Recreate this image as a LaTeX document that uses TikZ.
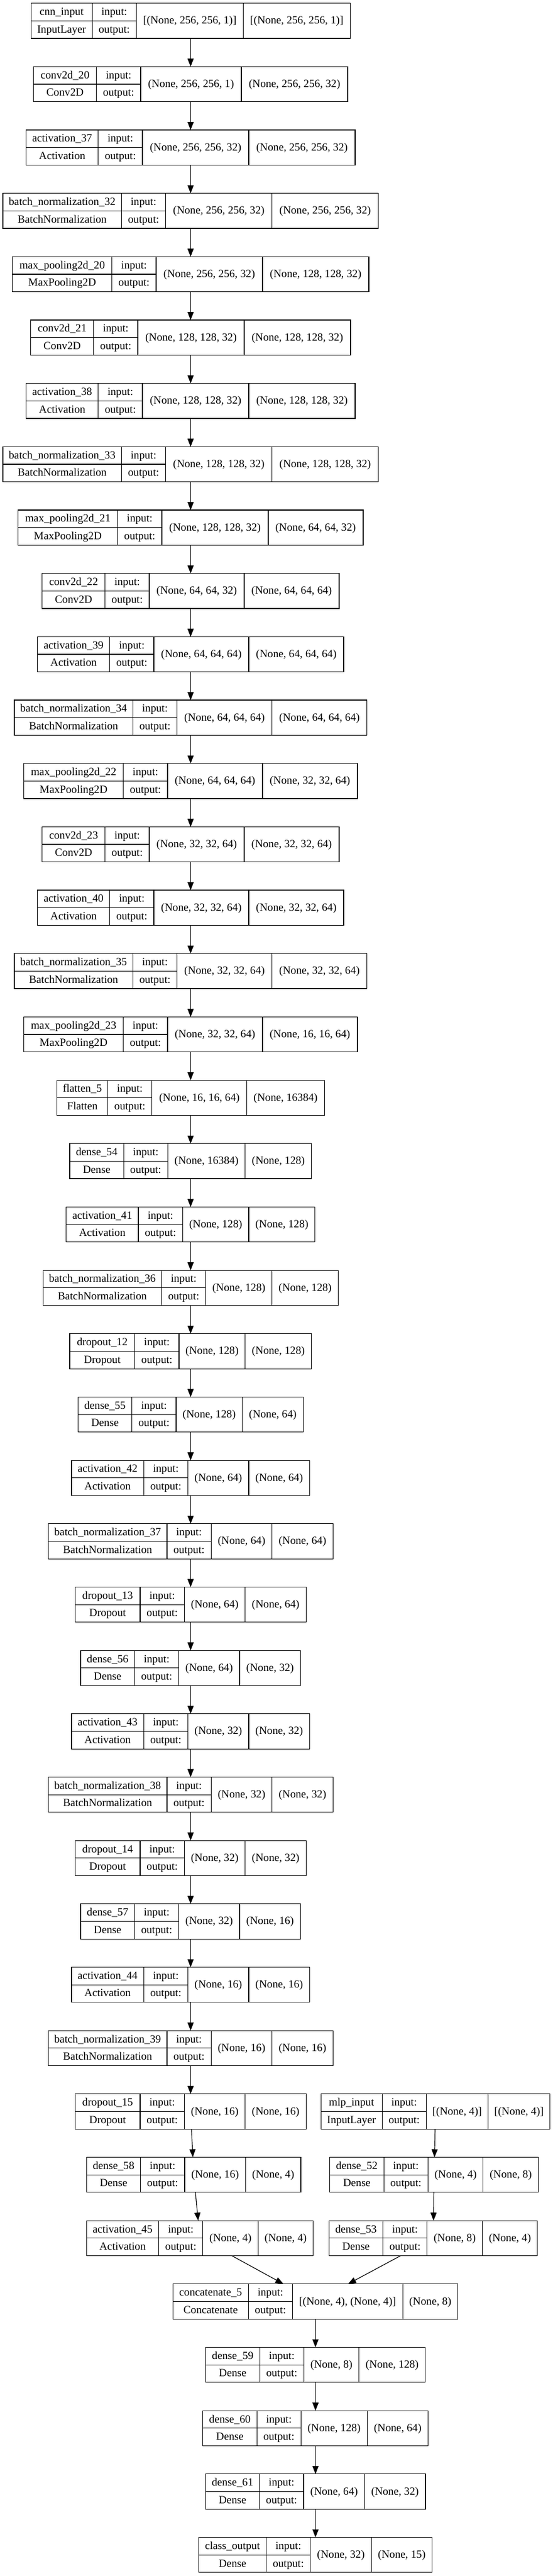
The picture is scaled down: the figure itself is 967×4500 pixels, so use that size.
\documentclass[tikz,border=0pt]{standalone}
\usepackage{fontspec}
\setmainfont{Liberation Serif}
\usetikzlibrary{arrows.meta}
\tikzset{
 recbox/.style={draw, line width=0.9pt, inner sep=0pt, outer sep=0pt, rectangle},
 divline/.style={line width=0.9pt},
 lbl/.style={anchor=base, inner sep=0pt, font=\fontsize{14.4}{17}\selectfont},
 arr/.style={line width=0.9pt, -{Triangle[length=10.5pt,width=8pt]}},
}
\newcommand\rec[9]{\def\rID{#1}\def\rCX{#2}\def\rRow{#3}\def\rWa{#4}\def\rWc{#5}\def\rWd{#6}\def\rName{#7}\def\rCls{#8}\def\rIn{#9}\recB}
\newcommand\recB[1]{%
 \pgfmathsetmacro\rW{\rWa+77.2+\rWc+\rWd}%
 \pgfmathsetmacro\rWpt{\rW*0.75}%
 \pgfmathsetmacro\rL{\rCX-\rW/2}%
 \pgfmathsetmacro\rT{5.7+110.67*\rRow}%
 \pgfmathsetmacro\rC{\rT+30.65}%
 \pgfmathsetmacro\rBt{\rT+61.3}%
 \pgfmathsetmacro\xa{\rL+\rWa}%
 \pgfmathsetmacro\xb{\xa+77.2}%
 \pgfmathsetmacro\xc{\xb+\rWc}%
 \pgfmathsetmacro\xr{\xc+\rWd}%
 \node[recbox, minimum width=\rWpt pt, minimum height=45.975pt] (\rID) at (\rCX,\rC) {};
 \draw[divline] (\xa,\rT) -- (\xa,\rBt) (\xb,\rT) -- (\xb,\rBt) (\xc,\rT) -- (\xc,\rBt) (\rL,\rC) -- (\xb,\rC);
 \pgfmathsetmacro\ma{(\rL+\xa)/2}\pgfmathsetmacro\mb{(\xa+\xb)/2}%
 \pgfmathsetmacro\mc{(\xb+\xc)/2}\pgfmathsetmacro\md{(\xc+\xr)/2}%
 \pgfmathsetmacro\yu{\rC-9.8}\pgfmathsetmacro\yl{\rC+20.8}\pgfmathsetmacro\ym{\rC+5.5}%
 \node[lbl] (\rID-n) at (\ma,\yu) {\rName};
 \node[lbl] (\rID-c) at (\ma,\yl) {\rCls};
 \node[lbl] (\rID-i) at (\mb,\yu) {input:};
 \node[lbl] (\rID-o) at (\mb,\yl) {output:};
 \node[lbl] (\rID-s) at (\mc,\ym) {\rIn};
 \node[lbl] (\rID-t) at (\md,\ym) {#1};
}
\begin{document}
\begin{tikzpicture}[x=0.75pt,y=-0.75pt]
\fill[white] (0,0) rectangle (967,4500);
\useasboundingbox (0,0) rectangle (967,4500);
\def\L{333.3}
\rec{n0}{\L}{0}{107}{187}{187}{cnn\_input}{InputLayer}{[(None, 256, 256, 1)]}{[(None, 256, 256, 1)]}
\rec{n1}{\L}{1}{110.2}{176}{186}{conv2d\_20}{Conv2D}{(None, 256, 256, 1)}{(None, 256, 256, 32)}
\rec{n2}{\L}{2}{126.3}{186}{186}{activation\_37}{Activation}{(None, 256, 256, 32)}{(None, 256, 256, 32)}
\rec{n3}{\L}{3}{207.4}{186}{186}{batch\_normalization\_32}{BatchNormalization}{(None, 256, 256, 32)}{(None, 256, 256, 32)}
\rec{n4}{\L}{4}{174.1}{186}{186}{max\_pooling2d\_20}{MaxPooling2D}{(None, 256, 256, 32)}{(None, 128, 128, 32)}
\rec{n5}{\L}{5}{110.2}{186}{186}{conv2d\_21}{Conv2D}{(None, 128, 128, 32)}{(None, 128, 128, 32)}
\rec{n6}{\L}{6}{126.3}{186}{186}{activation\_38}{Activation}{(None, 128, 128, 32)}{(None, 128, 128, 32)}
\rec{n7}{\L}{7}{207.4}{186}{186}{batch\_normalization\_33}{BatchNormalization}{(None, 128, 128, 32)}{(None, 128, 128, 32)}
\rec{n8}{\L}{8}{174.1}{186}{166}{max\_pooling2d\_21}{MaxPooling2D}{(None, 128, 128, 32)}{(None, 64, 64, 32)}
\rec{n9}{\L}{9}{110.2}{166}{166}{conv2d\_22}{Conv2D}{(None, 64, 64, 32)}{(None, 64, 64, 64)}
\rec{n10}{\L}{10}{126.3}{166}{166}{activation\_39}{Activation}{(None, 64, 64, 64)}{(None, 64, 64, 64)}
\rec{n11}{\L}{11}{207.4}{166}{166}{batch\_normalization\_34}{BatchNormalization}{(None, 64, 64, 64)}{(None, 64, 64, 64)}
\rec{n12}{\L}{12}{174.1}{166}{166}{max\_pooling2d\_22}{MaxPooling2D}{(None, 64, 64, 64)}{(None, 32, 32, 64)}
\rec{n13}{\L}{13}{110.2}{166}{166}{conv2d\_23}{Conv2D}{(None, 32, 32, 64)}{(None, 32, 32, 64)}
\rec{n14}{\L}{14}{126.3}{166}{166}{activation\_40}{Activation}{(None, 32, 32, 64)}{(None, 32, 32, 64)}
\rec{n15}{\L}{15}{207.4}{166}{166}{batch\_normalization\_35}{BatchNormalization}{(None, 32, 32, 64)}{(None, 32, 32, 64)}
\rec{n16}{\L}{16}{174.1}{166}{166}{max\_pooling2d\_23}{MaxPooling2D}{(None, 32, 32, 64)}{(None, 16, 16, 64)}
\rec{n17}{\L}{17}{89}{166}{135.4}{flatten\_5}{Flatten}{(None, 16, 16, 64)}{(None, 16384)}
\rec{n18}{\L}{18}{94.3}{135.4}{115.8}{dense\_54}{Dense}{(None, 16384)}{(None, 128)}
\rec{n19}{\L}{19}{126.3}{115.8}{115.8}{activation\_41}{Activation}{(None, 128)}{(None, 128)}
\rec{n20}{\L}{20}{207.4}{115.8}{115.8}{batch\_normalization\_36}{BatchNormalization}{(None, 128)}{(None, 128)}
\rec{n21}{\L}{21}{113.7}{115.8}{115.8}{dropout\_12}{Dropout}{(None, 128)}{(None, 128)}
\rec{n22}{\L}{22}{94.3}{115.8}{106.5}{dense\_55}{Dense}{(None, 128)}{(None, 64)}
\rec{n23}{\L}{23}{126.3}{106.5}{106.5}{activation\_42}{Activation}{(None, 64)}{(None, 64)}
\rec{n24}{\L}{24}{207.4}{106.5}{106.5}{batch\_normalization\_37}{BatchNormalization}{(None, 64)}{(None, 64)}
\rec{n25}{\L}{25}{113.7}{106.5}{106.5}{dropout\_13}{Dropout}{(None, 64)}{(None, 64)}
\rec{n26}{\L}{26}{94.3}{106.5}{106.5}{dense\_56}{Dense}{(None, 64)}{(None, 32)}
\rec{n27}{\L}{27}{126.3}{106.5}{106.5}{activation\_43}{Activation}{(None, 32)}{(None, 32)}
\rec{n28}{\L}{28}{207.4}{106.5}{106.5}{batch\_normalization\_38}{BatchNormalization}{(None, 32)}{(None, 32)}
\rec{n29}{\L}{29}{113.7}{106.5}{106.5}{dropout\_14}{Dropout}{(None, 32)}{(None, 32)}
\rec{n30}{\L}{30}{94.3}{106.5}{106.5}{dense\_57}{Dense}{(None, 32)}{(None, 16)}
\rec{n31}{\L}{31}{126.3}{106.5}{106.5}{activation\_44}{Activation}{(None, 16)}{(None, 16)}
\rec{n32}{\L}{32}{207.4}{106.5}{106.5}{batch\_normalization\_39}{BatchNormalization}{(None, 16)}{(None, 16)}
\rec{n33}{\L}{33}{113.7}{106.5}{106.5}{dropout\_15}{Dropout}{(None, 16)}{(None, 16)}
\rec{n34}{338.7}{34}{94.3}{106.5}{96.5}{dense\_58}{Dense}{(None, 16)}{(None, 4)}
\rec{n35}{349.5}{35}{126.3}{96.5}{96.5}{activation\_45}{Activation}{(None, 4)}{(None, 4)}
\rec{m0}{761.4}{33}{107}{108.2}{108.2}{mlp\_input}{InputLayer}{[(None, 4)]}{[(None, 4)]}
\rec{m1}{759.1}{34}{94.3}{96.5}{96.5}{dense\_52}{Dense}{(None, 4)}{(None, 8)}
\rec{m2}{757.6}{35}{94.3}{96.5}{96.5}{dense\_53}{Dense}{(None, 8)}{(None, 4)}
\rec{c0}{551.5}{36}{131.9}{192.6}{96.5}{concatenate\_5}{Concatenate}{[(None, 4), (None, 4)]}{(None, 8)}
\rec{c1}{551.7}{37}{94.3}{96.5}{115.8}{dense\_59}{Dense}{(None, 8)}{(None, 128)}
\rec{c2}{551.7}{38}{94.3}{115.8}{106.5}{dense\_60}{Dense}{(None, 128)}{(None, 64)}
\rec{c3}{551.7}{39}{94.3}{106.5}{106.5}{dense\_61}{Dense}{(None, 64)}{(None, 32)}
\rec{c4}{551.7}{40}{118}{106.5}{106.5}{class\_output}{Dense}{(None, 32)}{(None, 15)}
\foreach \i [evaluate=\i as \j using int(\i+1)] in {0,...,34} {\draw[arr] (n\i) -- (n\j);}
\draw[arr] (n35) -- (c0);
\draw[arr] (m0) -- (m1);
\draw[arr] (m1) -- (m2);
\draw[arr] (m2) -- (c0);
\draw[arr] (c0) -- (c1);
\draw[arr] (c1) -- (c2);
\draw[arr] (c2) -- (c3);
\draw[arr] (c3) -- (c4);
\end{tikzpicture}
\end{document}
